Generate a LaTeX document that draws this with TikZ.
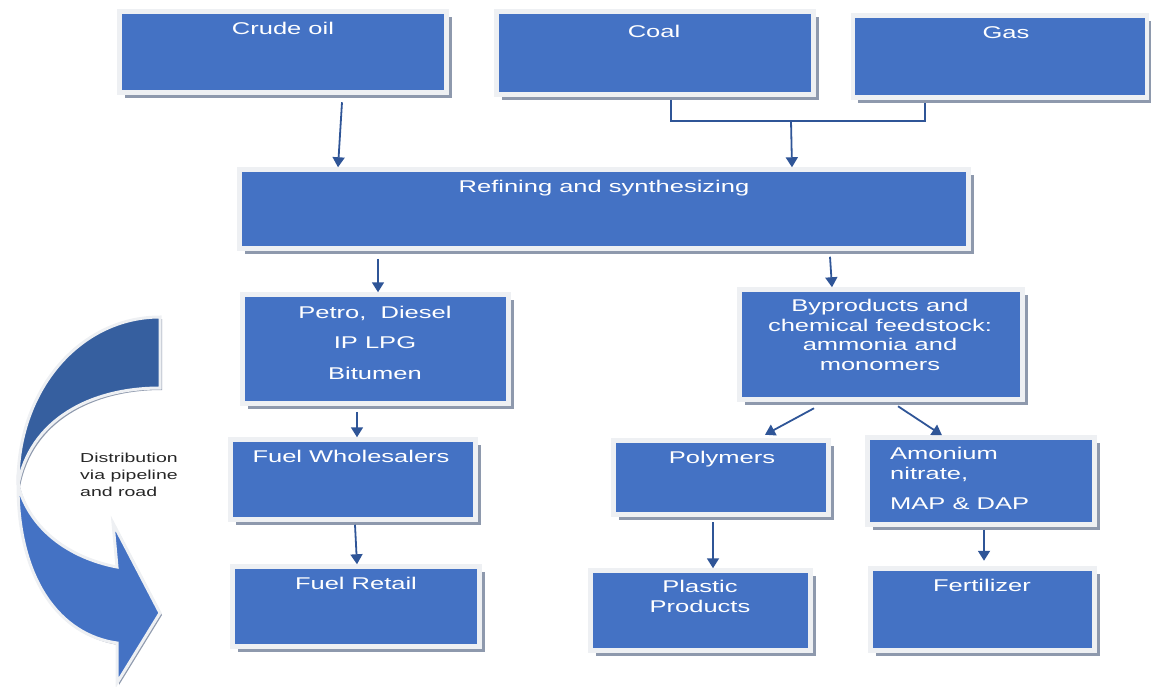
\documentclass[tikz,border=0pt]{standalone}
\usepackage{fontspec}
\setmainfont{Liberation Sans}[FakeStretch=1.5]
\usetikzlibrary{arrows.meta,shadows,positioning}
\definecolor{boxblue}{HTML}{4472C4}
\definecolor{curvedark}{HTML}{365F9F}
\definecolor{framegray}{HTML}{EEF0F3}
\definecolor{shadowgray}{HTML}{8E99AD}
\definecolor{arrowblue}{HTML}{2F5597}
\definecolor{textgray}{HTML}{262626}
\begin{document}
\begin{tikzpicture}[x=1pt, y=-1pt,
  box/.style={draw=framegray, line width=4.5pt, fill=boxblue, inner sep=0pt,
    drop shadow={shadow xshift=5pt, shadow yshift=-5pt, fill=shadowgray, opacity=1}},
  txt/.style={text=white, inner sep=0pt, anchor=base, align=center,
    font=\fontsize{17}{19.5}\selectfont},
  conn/.style={draw=arrowblue, line width=1.8pt, -{Triangle[length=10pt,width=12pt]}},
  link/.style={draw=arrowblue, line width=1.2pt}
]
\useasboundingbox (0,0) rectangle (1151,686);

% curved distribution arrow
\draw[draw=framegray, line width=3pt, fill=curvedark,
  drop shadow={shadow xshift=2pt, shadow yshift=-2pt, fill=shadowgray, opacity=1}]
  (160,317) .. controls (80,317) and (17,390) .. (18,485)
  .. controls (30,420) and (90,388) .. (160,388) -- cycle;
\draw[draw=framegray, line width=3pt, fill=boxblue,
  drop shadow={shadow xshift=2pt, shadow yshift=-2pt, fill=shadowgray, opacity=1}]
  (18,485) .. controls (18,580) and (60,635) .. (117,643) -- (117,683)
  -- (160,613) -- (113,523) -- (117,567)
  .. controls (70,558) and (30,530) .. (18,485) -- cycle;
\node[anchor=base west, align=left, inner sep=0pt, text=textgray,
  font=\fontsize{13}{17}\selectfont] (disttxt) at (80,496)
  {Distribution\\via pipeline\\and road};

% boxes
\node[box, minimum width=327pt, minimum height=81pt] (crude) at (283,52) {};
\node[box, minimum width=317pt, minimum height=83pt] (coal) at (655,53) {};
\node[box, minimum width=294pt, minimum height=82pt] (gas) at (1000,56.5) {};
\node[box, minimum width=729pt, minimum height=79pt] (refining) at (604,209) {};
\node[box, minimum width=266pt, minimum height=109pt] (petro) at (375.5,349) {};
\node[box, minimum width=283pt, minimum height=110pt] (bypro) at (881,344.5) {};
\node[box, minimum width=245pt, minimum height=80pt] (whole) at (353,479.5) {};
\node[box, minimum width=247pt, minimum height=80pt] (retail) at (356,606.5) {};
\node[box, minimum width=215pt, minimum height=74pt] (polymers) at (721,477.5) {};
\node[box, minimum width=227pt, minimum height=87pt] (amonium) at (981,481) {};
\node[box, minimum width=220pt, minimum height=80pt] (plastic) at (700.5,610.5) {};
\node[box, minimum width=224pt, minimum height=82pt] (fert) at (982.5,609.5) {};

% texts (multi-line ones sit on their last line)
\node[txt] (crudetxt) at (283,34) {Crude oil};
\node[txt] (coaltxt) at (654,37) {Coal};
\node[txt] (gastxt) at (1006,38) {Gas};
\node[txt] (refiningtxt) at (604,192) {Refining and synthesizing};
\node[txt] (petrotxt) at (375,379) {Petro,~~Diesel\\[11pt]IP LPG\\[11pt]Bitumen};
\node[txt] (byprotxt) at (880,370) {Byproducts and\\chemical feedstock:\\ammonia and\\monomers};
\node[txt] (wholetxt) at (351,462) {Fuel Wholesalers};
\node[txt] (retailtxt) at (356,589) {Fuel Retail};
\node[txt] (polymerstxt) at (722,463) {Polymers};
\node[txt, anchor=base west, align=left] (amoniumtxt) at (890,509) {Amonium\\nitrate,\\[10.5pt]MAP \& DAP};
\node[txt] (plastictxt) at (700,612) {Plastic\\Products};
\node[txt] (ferttxt) at (982,591) {Fertilizer};

% connectors
\draw[conn] ([xshift=59pt,yshift=-7.5pt]crude.south) -- ([xshift=-266pt]refining.north);
\coordinate (join) at (791,121);
\draw[link] ([xshift=16pt,yshift=-3pt]coal.south) |- (join) -| ([xshift=-75pt,yshift=-3pt]gas.south);
\draw[conn] (join) -- ([xshift=188pt]refining.north);
\draw[conn] ([xshift=-226pt,yshift=-8pt]refining.south) -- ([xshift=2.5pt]petro.north);
\draw[conn] ([xshift=226pt,yshift=-6pt]refining.south) -- ([xshift=-49pt]bypro.north);
\draw[conn] ([xshift=-18.5pt,yshift=-6pt]petro.south) -- ([xshift=4pt]whole.north);
\draw[conn] ([xshift=2pt,yshift=-3pt]whole.south) -- ([xshift=1pt]retail.north);
\draw[conn] ([xshift=-67pt,yshift=-6.5pt]bypro.south) -- ([xshift=44pt,yshift=3.5pt]polymers.north);
\draw[conn] ([xshift=17pt,yshift=-4.5pt]bypro.south) -- ([xshift=-39pt]amonium.north);
\draw[conn] ([xshift=-8pt,yshift=-5.5pt]polymers.south) -- ([xshift=12.5pt]plastic.north);
\draw[conn] ([xshift=3pt,yshift=-3pt]amonium.south) -- ([xshift=1.5pt,yshift=5.5pt]fert.north);
\end{tikzpicture}
\end{document}
